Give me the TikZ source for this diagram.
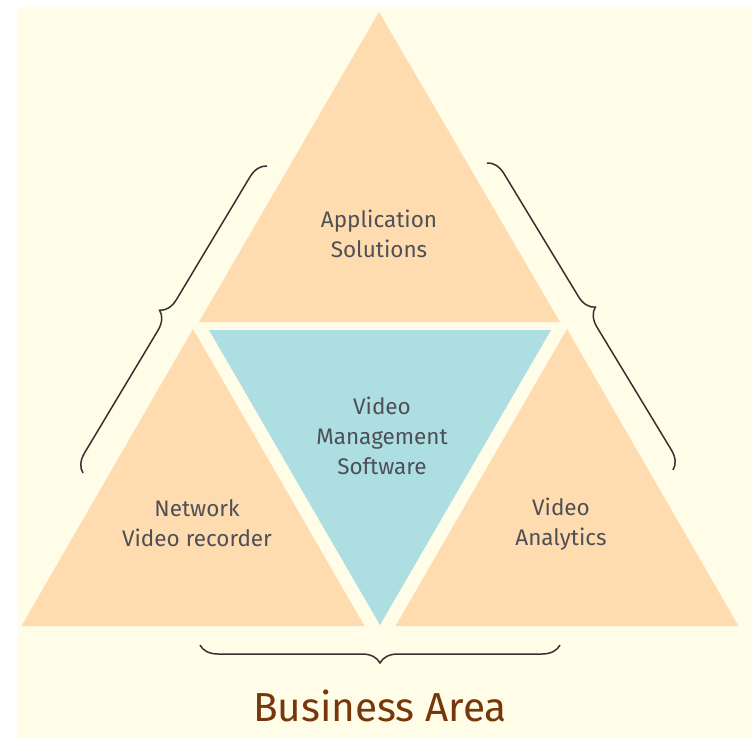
\documentclass[tikz,border=0pt]{standalone}
\usepackage{fontspec}
\setmainfont{Fira Sans}
\usetikzlibrary{decorations.pathreplacing}
\definecolor{bgc}{RGB}{255,252,232}
\definecolor{peach}{RGB}{254,220,176}
\definecolor{vblue}{RGB}{172,222,226}
\definecolor{lblc}{RGB}{78,80,86}
\definecolor{brownc}{RGB}{118,56,10}
\definecolor{bracec}{RGB}{50,50,50}
\begin{document}
\begin{tikzpicture}[x=1pt,y=-1pt,
  lbl/.style={text=lblc,font=\fontsize{22.5}{30}\selectfont,align=center,inner sep=0pt},
  bracestyle/.style={draw=bracec,line width=1.5pt,decorate,decoration={brace,amplitude=18pt}}]
\useasboundingbox (0,0) rectangle (752,738);
\fill[white] (0,0) rectangle (752,738);
\fill[bgc] (17,7) rectangle (752,738);
% triangles
\fill[peach] (379,12) -- (560,322) -- (199,322) -- cycle;
\fill[peach] (193,329) -- (364.5,626) -- (21.5,626) -- cycle;
\fill[peach] (567,329) -- (738.5,626) -- (395.5,626) -- cycle;
\fill[vblue] (209,330) -- (551,330) -- (380,625) -- cycle;
% labels
\node[lbl] (app) at (379,234) {Application\\Solutions};
\node[lbl] (vms) at (382,436) {Video\\Management\\Software};
\node[lbl] (nvr) at (197,523) {Network\\Video recorder};
\node[lbl] (va) at (561,524) {Video\\Analytics};
\node[text=brownc,font=\fontsize{40.5}{48}\selectfont,inner sep=0pt] (ba) at (380,706) {Business Area};
% braces
\coordinate (lbA) at (83,473);
\coordinate (lbB) at (267,166);
\coordinate (rbA) at (487,163);
\coordinate (rbB) at (673,470);
\coordinate (bbA) at (560,645);
\coordinate (bbB) at (200,645);
\draw[bracestyle] (lbA) -- (lbB);
\draw[bracestyle] (rbA) -- (rbB);
\draw[bracestyle] (bbA) -- (bbB);
\end{tikzpicture}
\end{document}
